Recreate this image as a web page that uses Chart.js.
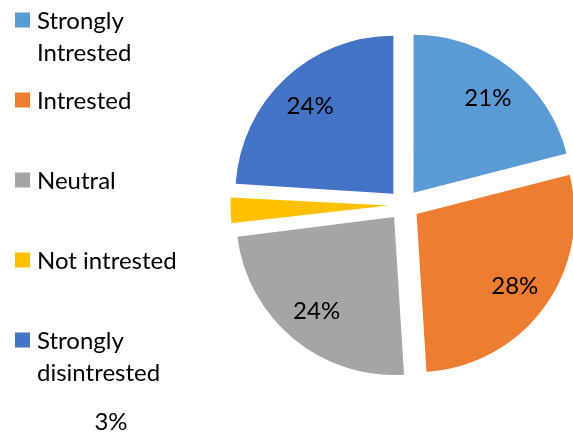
<!DOCTYPE html>
<html>
<head>
<meta charset="utf-8">
<script src="https://cdn.jsdelivr.net/npm/chart.js@4.4.1/dist/chart.umd.min.js"></script>
<style>
  html, body { margin: 0; padding: 0; background: #fff; overflow: hidden; }
  #wrap { width: 573px; height: 432px; position: relative; }
</style>
</head>
<body>
<div id="wrap"><canvas id="c" width="573" height="432"></canvas></div>
<script>
// Survey answers and their shares (percent)
const categories = ['Strongly Intrested', 'Intrested', 'Neutral', 'Not intrested', 'Strongly disintrested'];
const legendLines = [['Strongly', 'Intrested'], ['Intrested'], ['Neutral'], ['Not intrested'], ['Strongly', 'disintrested']];
const shares = [21, 28, 24, 3, 24];
const sliceColors = ['#5B9BD5', '#ED7D31', '#A5A5A5', '#FFC000', '#4472C4'];

const FONT = '24px Lato, Carlito, "Open Sans", sans-serif';
const EXPLODE = 62;           // Chart.js moves each arc by offset / 4
const LABEL_RATIO = 0.77;     // where the value labels sit along each slice

// Keep exploded slices at the common radius (Chart.js grows thin slices by offset)
const evenRadius = {
  id: 'evenRadius',
  afterDatasetsUpdate(chart) {
    chart.getDatasetMeta(0).data.forEach(arc => {
      const circ = arc.endAngle - arc.startAngle;
      const grow = (EXPLODE / 4) * (1 - Math.sin(Math.min(Math.PI, circ)));
      arc.outerRadius -= grow;
    });
  }
};

// Value labels and the side legend
const annotate = {
  id: 'annotate',
  afterDraw(chart) {
    const ctx = chart.ctx;
    const arcs = chart.getDatasetMeta(0).data;
    ctx.save();
    ctx.font = FONT;
    ctx.fillStyle = '#000';
    ctx.textAlign = 'center';
    ctx.textBaseline = 'middle';
    arcs.forEach((arc, i) => {
      const text = shares[i] + '%';
      if (shares[i] < 5) {
        // thin slice: its label is set apart below the legend
        ctx.fillText(text, 111, 422);
        return;
      }
      const mid = (arc.startAngle + arc.endAngle) / 2;
      const d = EXPLODE / 4 + arc.outerRadius * LABEL_RATIO;
      ctx.fillText(text, arc.x + Math.cos(mid) * d, arc.y + Math.sin(mid) * d + 1);
    });

    // legend
    ctx.textAlign = 'left';
    let y = 20;
    legendLines.forEach((lines, i) => {
      ctx.fillStyle = sliceColors[i];
      ctx.fillRect(15, y - 7.5, 15, 15);
      ctx.fillStyle = '#000';
      lines.forEach((ln, k) => ctx.fillText(ln, 37, y + 1 + k * 32));
      y += 80;
    });
    ctx.restore();
  }
};

new Chart(document.getElementById('c'), {
  type: 'pie',
  data: {
    labels: categories,
    datasets: [{
      data: shares,
      backgroundColor: sliceColors,
      borderWidth: 0,
      offset: EXPLODE
    }]
  },
  options: {
    responsive: false,
    animation: false,
    radius: 158,
    layout: { padding: { left: 235, right: 0, top: 0, bottom: 22 } },
    plugins: {
      legend: { display: false },
      tooltip: { enabled: false }
    }
  },
  plugins: [evenRadius, annotate]
});
</script>
</body>
</html>
